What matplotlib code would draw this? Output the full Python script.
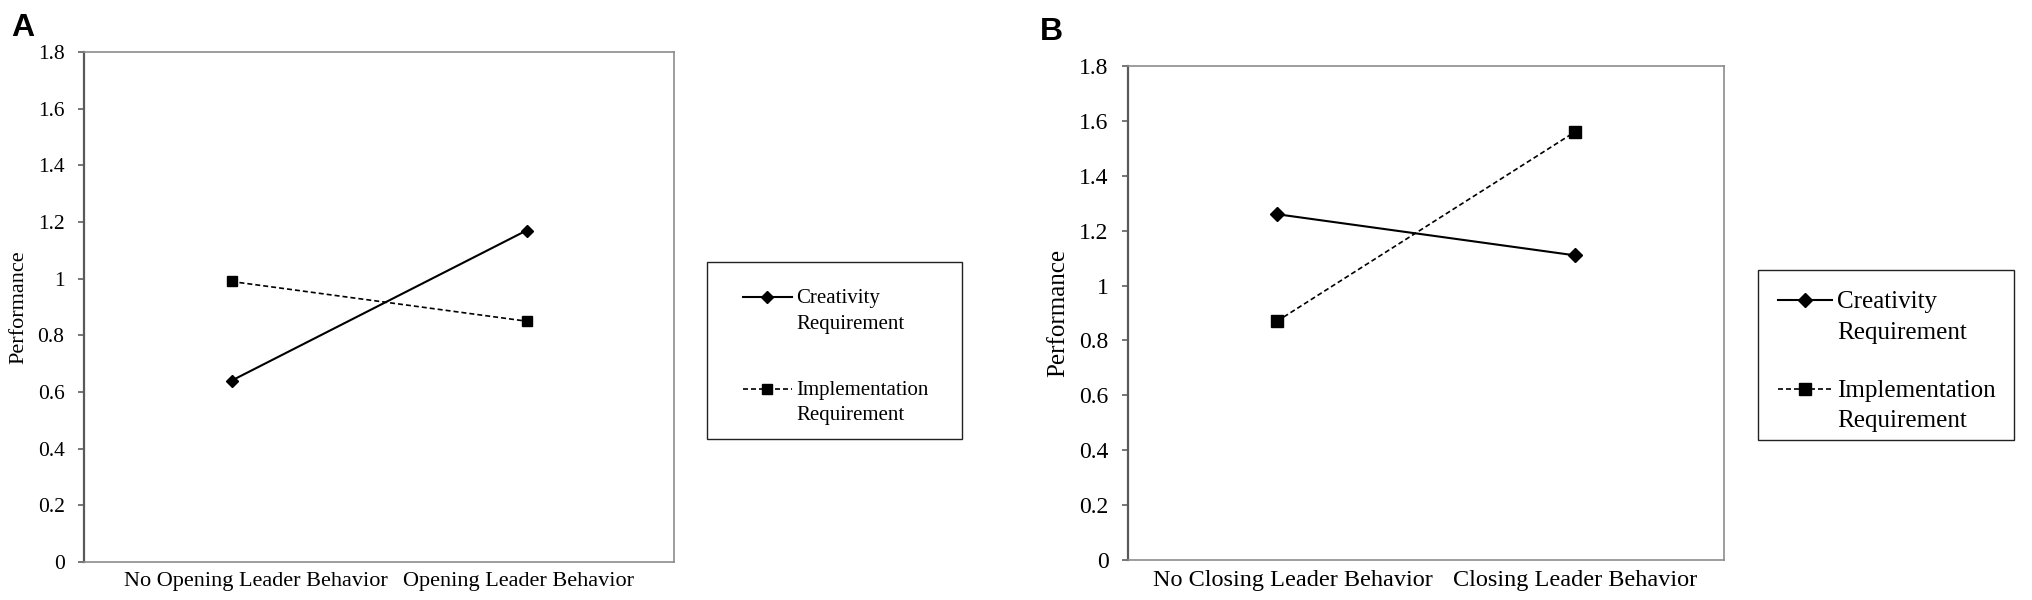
import matplotlib
matplotlib.use("Agg")
import matplotlib.pyplot as plt
from matplotlib.legend_handler import HandlerLine2D
from matplotlib.patches import Rectangle
from matplotlib.transforms import ScaledTranslation

# ---- data ----
cats_a = ["No Opening Leader Behavior", "Opening Leader Behavior"]
cats_b = ["No Closing Leader Behavior", "Closing Leader Behavior"]
creativity_a = [0.64, 1.17]
implementation_a = [0.99, 0.85]
creativity_b = [1.26, 1.11]
implementation_b = [0.87, 1.56]
yticks = [0, 0.2, 0.4, 0.6, 0.8, 1, 1.2, 1.4, 1.6, 1.8]
ytick_labels = ["0", "0.2", "0.4", "0.6", "0.8", "1", "1.2", "1.4", "1.6", "1.8"]
series_labels = ["Creativity\nRequirement", "Implementation\nRequirement"]

W, H = 2033, 600
DPI = 100
fig = plt.figure(figsize=(W / DPI, H / DPI), dpi=DPI)
serif = "Liberation Serif"


def fr(x0, y0, x1, y1):
    return [x0 / W, 1 - y1 / H, (x1 - x0) / W, (y1 - y0) / H]


class UpHandler(HandlerLine2D):
    """Line handle placed at the first line of a two-line label."""

    def __init__(self, shift, **kw):
        super().__init__(**kw)
        self.shift = shift

    def create_artists(self, legend, orig_handle, xdescent, ydescent, width,
                       height, fontsize, trans):
        return super().create_artists(legend, orig_handle, xdescent,
                                      ydescent - 2 * self.shift, width, height,
                                      fontsize, trans)


def panel(rect, cats, cre, imp, cfg):
    ax = fig.add_axes(fr(*rect))
    x = range(len(cats))
    l1, = ax.plot(x, cre, color="black", lw=1.5, marker="D", ms=cfg["dms"],
                  label=series_labels[0])
    l2, = ax.plot(x, imp, color="black", lw=1.2, ls=(0, (3, 1.8)), marker="s",
                  ms=cfg["sms"], label=series_labels[1])
    ax.set_xlim(-0.5, 1.5)
    ax.set_ylim(0, 1.8)
    ax.set_yticks(yticks)
    ax.set_yticklabels(ytick_labels, fontfamily=serif, fontsize=cfg["yt"])
    ax.set_xticks(list(x))
    ax.set_xticklabels(cats, fontfamily=serif, fontsize=cfg["xt"])
    ax.tick_params(axis="x", length=0, pad=cfg["xpad"])
    ax.tick_params(axis="y", length=4, width=1.2, color="#606060",
                   direction="out", pad=10)
    for lab, dx in zip(ax.get_xticklabels(), cfg["xshift"]):
        lab.set_transform(lab.get_transform() +
                          ScaledTranslation(dx / DPI, 0, fig.dpi_scale_trans))
    for s in ["top", "right", "bottom"]:
        ax.spines[s].set_color("#8c8c8c")
        ax.spines[s].set_linewidth(1.2)
    ax.spines["left"].set_color("#5a5a5a")
    ax.spines["left"].set_linewidth(1.6)
    ax.set_ylabel("Performance", fontfamily=serif, fontsize=cfg["yl"],
                  labelpad=cfg["ylpad"])

    # legend frame
    fx0, fy0, fx1, fy1 = cfg["frame"]
    fig.add_artist(Rectangle((fx0 / W, 1 - fy1 / H), (fx1 - fx0) / W, (fy1 - fy0) / H,
                             transform=fig.transFigure, facecolor="none",
                             edgecolor="#222222", lw=1.0, zorder=5))
    fs = cfg["lfs"]
    ls = cfg["lls"]
    shift = 0.5 * ls * 0.82 * fs + 0.05 * fs
    ax_, ay_ = cfg["lanchor"]
    leg = ax.legend(handles=[l1, l2], loc="upper left",
                    bbox_to_anchor=(ax_ / W, 1 - ay_ / H),
                    bbox_transform=fig.transFigure,
                    prop={"family": serif, "size": fs}, frameon=False,
                    borderpad=0, borderaxespad=0,
                    handlelength=cfg["hl"], handletextpad=0.2,
                    labelspacing=cfg["lsp"],
                    handler_map={l1: UpHandler(shift), l2: UpHandler(shift)})
    for t in leg.get_texts():
        t.set_linespacing(ls)
    fig.text(cfg["letter_xy"][0] / W, 1 - cfg["letter_xy"][1] / H, cfg["letter"],
             fontfamily="Liberation Sans", fontweight="bold", fontsize=23,
             ha="left", va="top")
    return ax


cfg_a = dict(dms=6.2, sms=7.0, yt=15.5, xt=16, xpad=7, xshift=(24, -8),
             yl=16, ylpad=6.5,
             frame=(707, 262, 962, 439), lfs=15, lls=1.47, lsp=2.27,
             lanchor=(743, 289), hl=2.35, letter="A", letter_xy=(11, 13))
cfg_b = dict(dms=7.2, sms=8.0, yt=17, xt=17.5, xpad=7.5, xshift=(16, 0),
             yl=18, ylpad=7,
             frame=(1758, 270, 2014, 440), lfs=18, lls=1.5, lsp=1.44,
             lanchor=(1778, 291), hl=2.16, letter="B", letter_xy=(1040, 17))

panel((84, 52, 674, 562), cats_a, creativity_a, implementation_a, cfg_a)
panel((1128, 66, 1724, 560), cats_b, creativity_b, implementation_b, cfg_b)

fig.savefig("out.png", dpi=DPI)
